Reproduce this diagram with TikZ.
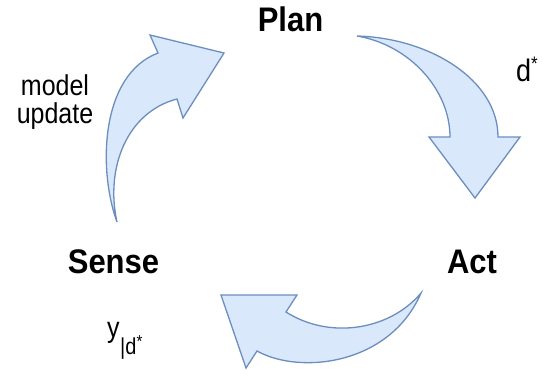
\documentclass[tikz,border=0pt]{standalone}
\usepackage{fontspec}
\setmainfont{Liberation Sans}
\newcommand{\talltext}[1]{\scalebox{1}[1.15]{#1}}
\begin{document}
\begin{tikzpicture}[x=1pt,y=-1pt,
  bigarrow/.style={fill=arrowfill,draw=arrowline,line width=1.3pt,line join=miter},
  stage/.style={font=\fontsize{31}{36}\selectfont\bfseries,inner sep=0pt,anchor=base},
  lbl/.style={font=\fontsize{25}{28}\selectfont,inner sep=0pt,anchor=base}]
\definecolor{arrowfill}{HTML}{DAE8FC}
\definecolor{arrowline}{HTML}{6C8EBF}
\useasboundingbox (0,0) rectangle (543,373);
% arrow: Sense -> Plan (up-right)
\draw[bigarrow] (117,222) .. controls (98,170) and (100,75) .. (158,53)
  -- (150,35) -- (224,53) -- (183,118) -- (177,99)
  .. controls (127,112) and (105,168) .. (117,222) -- cycle;
% arrow: Plan -> Act (down-right)
\draw[bigarrow] (357,36) .. controls (430,38) and (498,80) .. (498,137)
  -- (520,137) -- (475,198) -- (429,137) -- (450,137)
  .. controls (450,90) and (410,45) .. (357,36) -- cycle;
% arrow: Act -> Sense (leftwards)
\draw[bigarrow] (421,293) .. controls (390,330) and (330,340) .. (286,312)
  -- (297,295) -- (221,295) -- (246,368) -- (257,351)
  .. controls (300,375) and (390,365) .. (421,293) -- cycle;
% labels
\node[stage] (plan) at (290.5,31) {\scalebox{1}[1.1]{Plan}};
\node[stage] (act) at (472,273) {\scalebox{1}[1.1]{Act}};
\node[stage] (sense) at (113.5,273) {\scalebox{1}[1.1]{Sense}};
\node[lbl] (model) at (55,95) {\talltext{model}};
\node[lbl] (update) at (55,123) {\talltext{update}};
\node[font=\fontsize{27}{30}\selectfont,inner sep=0pt,anchor=base west] (dstar) at (516,81) {\talltext{d\raisebox{9pt}{\fontsize{17}{19}\selectfont *}}};
\node[lbl,anchor=base west] (y) at (107,337) {\talltext{y}};
\node[font=\fontsize{20}{22}\selectfont,inner sep=0pt,anchor=base west] (ysub) at (120,354) {\talltext{|d\raisebox{6pt}{\fontsize{15}{17}\selectfont *}}};
\end{tikzpicture}
\end{document}
